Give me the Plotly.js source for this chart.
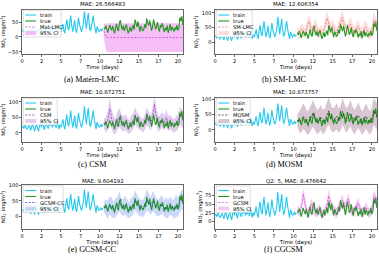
<!DOCTYPE html>
<html>
<head>
<meta charset="utf-8">
<script src="https://cdn.plot.ly/plotly-3.0.1.min.js"></script>
<style>
  html, body { margin: 0; padding: 0; background: #fff; }
  #chart { width: 379px; height: 261px; }
</style>
</head>
<body>
<div id="chart"></div>
<script>
// NO2 concentration: training period and held-out test period, 3-hour sampling
const obsStepDays = 0.125;
const trainStartDay = 0;
const testStartDay = 10.5;
const trainNO2 = [
  18, 22, 14, 25, 20, 12, 16, 24,
  19, 8, 22, 28, 14, 6, 20, 26,
  15, 5, 24, 30, 18, 42, 20, 10,
  26, 34, 20, 14, 30, 24, 36, 18,
  28, 22, 34, 16, 38, 24, 12, 26,
  18, 30, 44, 22, 12, 40, 58, 30,
  22, 48, 72, 40, 18, 34, 56, 26,
  14, 38, 65, 42, 24, 18, 30, 46,
  86, 60, 28, 54, 80, 42, 20, 30,
  52, 72, 46, 20, 12, 35, 24, 18,
  22, 28, 20, 26
];
const trueNO2 = [
  32, 26, 38, 22, 15, 28, 40, 30,
  22, 36, 18, 12, 30, 44, 26, 20,
  48, 56, 34, 24, 38, 20, 30, 42,
  26, 12, 22, 34, 18, 28, 40, 24,
  58, 46, 34, 52, 28, 18, 36, 30,
  20, 26, 42, 30, 62, 48, 38, 56,
  30, 20, 36, 58, 44, 26, 34, 50,
  28, 18, 40, 32, 46, 24, 16, 30,
  22, 38, 14, 28, 42, 20, 34, 26,
  18, 32, 24, 40, 22, 30, 66, 52,
  70, 40
];

// Model predictions (mean and 95% half-width), 6-hour sampling
const predStartDay = 10.5;
const predStepDays = 0.25;
const matLmcMean = [20, 0, -2, -2, -3, -2, -2, -2, -3, -2, -2, -2, -2, -3, -2, -2, -2, -2, -3, -2, -2,
  -2, -2, -3, -2, -2, -2, -2, -3, -2, -2, -2, -2, -3, -2, -2, -2, -2, -3, -2, -2, -2];
const matLmcHalf = [25, 44, 48, 48, 48, 48, 48, 48, 48, 48, 48, 48, 48, 48, 48, 48, 48, 48, 48, 48, 48,
  48, 48, 48, 48, 48, 48, 48, 48, 48, 48, 48, 48, 48, 48, 48, 48, 48, 48, 48, 48, 48];
const smLmcMean = [35, 28, 45, 38, 30, 55, 70, 48, 35, 58, 45, 30, 38, 30, 50, 82, 65, 45, 55, 40, 32,
  50, 68, 85, 55, 40, 48, 62, 45, 32, 42, 55, 35, 30, 45, 52, 35, 28, 40, 78, 60, 50];
const smLmcHalf = [15, 18, 20, 20, 18, 22, 25, 22, 18, 22, 20, 18, 20, 18, 22, 26, 24, 20, 22, 20, 18,
  22, 24, 26, 22, 20, 20, 24, 22, 18, 20, 22, 20, 18, 20, 22, 20, 18, 20, 26, 24, 22];
const csmMean = [30, 25, 40, 78, 45, 25, 22, 40, 50, 35, 28, 35, 25, 18, 30, 38, 55, 42, 35, 30, 22,
  35, 52, 45, 30, 55, 92, 48, 28, 35, 42, 30, 50, 30, 35, 28, 22, 30, 35, 55, 50, 40];
const csmHalf = [15, 25, 30, 35, 32, 28, 25, 28, 30, 26, 24, 25, 24, 22, 25, 26, 28, 25, 24, 22, 22,
  25, 28, 26, 24, 28, 32, 28, 24, 24, 26, 24, 28, 24, 24, 22, 22, 24, 25, 28, 28, 26];
const mosmMean = [32, 25, 32, 45, 35, 22, 28, 42, 55, 40, 25, 30, 40, 25, 30, 48, 62, 42, 30, 35, 45,
  30, 38, 60, 45, 30, 40, 55, 38, 25, 35, 48, 35, 22, 32, 45, 32, 22, 35, 62, 50, 40];
const mosmHalf = [20, 35, 40, 42, 40, 38, 40, 42, 44, 42, 40, 40, 42, 40, 40, 42, 45, 42, 40, 40, 42,
  40, 40, 44, 42, 40, 40, 43, 42, 40, 40, 42, 40, 38, 40, 42, 40, 38, 40, 45, 44, 42];
const gcsmCcMean = [30, 28, 22, 35, 30, 20, 28, 35, 48, 30, 28, 36, 25, 20, 30, 35, 52, 40, 30, 28, 24,
  36, 52, 45, 32, 48, 42, 30, 26, 35, 38, 25, 28, 25, 34, 28, 22, 35, 28, 45, 55, 45];
const gcsmCcHalf = [18, 25, 30, 28, 32, 26, 30, 28, 32, 26, 28, 30, 28, 26, 30, 28, 32, 30, 28, 26, 28,
  30, 34, 30, 28, 32, 30, 28, 26, 30, 28, 26, 34, 28, 30, 26, 32, 36, 30, 30, 32, 30];
const gcsmMean = [32, 28, 40, 80, 50, 25, 28, 50, 42, 30, 25, 38, 28, 20, 30, 45, 75, 50, 35, 30, 25,
  38, 50, 62, 40, 48, 65, 40, 28, 30, 40, 55, 35, 25, 30, 42, 28, 25, 35, 75, 60, 45];
const gcsmHalf = [12, 14, 16, 18, 16, 14, 14, 16, 16, 14, 14, 15, 14, 13, 14, 16, 18, 16, 15, 14, 14,
  15, 16, 18, 15, 16, 18, 16, 14, 14, 15, 16, 15, 14, 14, 15, 14, 14, 15, 18, 17, 16];

const modelLabels = ['Mat-LMC', 'SM-LMC', 'CSM', 'MOSM', 'GCSM-CC', 'GCSM'];
const panelTitles = ['MAE: 26.566483', 'MAE: 12.606354', 'MAE: 10.872751',
  'MAE: 10.873757', 'MAE: 9.604192', 'Q2: 5, MAE: 8.476642'];
const captions = ['(a) Matérn-LMC', '(b) SM-LMC', '(c) CSM', '(d) MOSM', '(e) GCSM-CC', '(f) CGCSM'];
const xTickVals = [0, 2.5, 5, 7.5, 10, 12.5, 15, 17.5, 20];
const xTickText = ['0', '2', '5', '7', '10', '12', '15', '17', '20'];
const yTickVals = [[-50, 0, 50], [0, 50, 100], [0, 50, 100], [0, 50, 100], [0, 50, 100], [0, 25, 50, 75]];
const yRanges = [[-57, 92], [-39, 111], [-29, 114], [-40, 106], [-41, 101], [-21, 106]];
const legendLabels = ['train', 'true', null, '95% CI'];

// Styling per model: dashed mean colour and CI fill
const meanColors = ['#e040e0', '#f06a6a', '#9a3cc0', '#3a2a3a', '#2a48d8', '#d848d8'];
const bandColors = ['rgba(236,120,236,0.48)', 'rgba(248,120,110,0.25)', 'rgba(190,140,220,0.45)',
  'rgba(150,90,125,0.35)', 'rgba(110,140,240,0.35)', 'rgba(236,130,236,0.45)'];
const trainColor = '#22c8ee';
const trueColor = '#1f9a1f';

const means = [matLmcMean, smLmcMean, csmMean, mosmMean, gcsmCcMean, gcsmMean];
const halves = [matLmcHalf, smLmcHalf, csmHalf, mosmHalf, gcsmCcHalf, gcsmHalf];

// Page geometry (pixels)
const W = 379, H = 261;
const colX = [[22, 183], [215, 377]];
const rowY = [[9.5, 54], [97.5, 142], [185, 229]];
const titleY = [4, 91.5, 180.5];
const captionY = [79.5, 164.5, 249.5];
const captionX = [92, 284];
const legendW = [38, 36, 34, 34, 40, 34];

const px = v => v / W;
const py = v => 1 - v / H;

const traces = [];
const layout = {
  width: W, height: H,
  margin: {l: 0, r: 0, t: 0, b: 0},
  paper_bgcolor: '#fff', plot_bgcolor: '#fff',
  showlegend: false,
  font: {family: 'DejaVu Sans, sans-serif', size: 5, color: '#000'},
  annotations: [], shapes: []
};

for (let p = 0; p < 6; p++) {
  const col = p % 2, row = Math.floor(p / 2);
  const sfx = p === 0 ? '' : String(p + 1);
  const xa = 'x' + sfx, ya = 'y' + sfx;
  const [L, R] = colX[col];
  const [T, B] = rowY[row];

  layout['xaxis' + sfx] = {
    domain: [px(L), px(R)], anchor: ya, range: [0, 20.65],
    tickmode: 'array', tickvals: xTickVals, ticktext: xTickText,
    showline: true, mirror: true, linecolor: '#000', linewidth: 0.6,
    ticks: 'outside', ticklen: 2, tickwidth: 0.6, tickcolor: '#000',
    tickfont: {size: 5}, showgrid: false, zeroline: false,
    title: {text: 'Time (days)', font: {size: 5.5}, standoff: 0}
  };
  layout['yaxis' + sfx] = {
    domain: [py(B), py(T)], anchor: xa, range: yRanges[p],
    tickmode: 'array', tickvals: yTickVals[p],
    showline: true, mirror: true, linecolor: '#000', linewidth: 0.6,
    ticks: 'outside', ticklen: 2, tickwidth: 0.6, tickcolor: '#000',
    tickfont: {size: 5}, showgrid: false, zeroline: false,
    title: {text: 'NO<sub>2</sub> (mg/m<sup>3</sup>)', font: {size: 5}, standoff: 2}
  };

  // 95% CI band
  const lo = means[p].map((m, i) => m - halves[p][i]);
  const hi = means[p].map((m, i) => m + halves[p][i]);
  traces.push({x0: predStartDay, dx: predStepDays, y: lo, xaxis: xa, yaxis: ya,
    mode: 'lines', line: {width: 0}, hoverinfo: 'skip'});
  traces.push({x0: predStartDay, dx: predStepDays, y: hi, xaxis: xa, yaxis: ya,
    mode: 'lines', line: {width: 0}, fill: 'tonexty', fillcolor: bandColors[p], hoverinfo: 'skip'});
  // observations
  traces.push({x0: trainStartDay, dx: obsStepDays, y: trainNO2, xaxis: xa, yaxis: ya,
    mode: 'lines', line: {color: trainColor, width: 1.1}});
  traces.push({x0: testStartDay, dx: obsStepDays, y: trueNO2, xaxis: xa, yaxis: ya,
    mode: 'lines', line: {color: trueColor, width: 1.1}});
  // predictive mean
  traces.push({x0: predStartDay, dx: predStepDays, y: means[p], xaxis: xa, yaxis: ya,
    mode: 'lines', line: {color: meanColors[p], width: 0.8, dash: '2px,1.5px'}});

  // panel title and caption
  layout.annotations.push({xref: 'paper', yref: 'paper', x: px((L + R) / 2), y: py(titleY[row]),
    text: panelTitles[p], showarrow: false, xanchor: 'center', yanchor: 'middle', font: {size: 5.5}});
  layout.annotations.push({xref: 'paper', yref: 'paper', x: px(captionX[col]), y: py(captionY[row]),
    text: captions[p], showarrow: false, xanchor: 'center', yanchor: 'middle', borderpad: 0,
    font: {family: 'Liberation Serif, Times New Roman, serif', size: 8.2}});

  // legend box
  const bx0 = L + 1.2, by0 = T + 0.8, bx1 = L + 1.2 + legendW[p], by1 = T + 27.5;
  layout.shapes.push({type: 'rect', xref: 'paper', yref: 'paper',
    x0: px(bx0), x1: px(bx1), y0: py(by0), y1: py(by1),
    line: {color: '#c8c8c8', width: 0.6}, fillcolor: 'rgba(255,255,255,0.85)'});
  const rowsY = [T + 5.5, T + 11.5, T + 17.5, T + 23.5];
  const hx0 = bx0 + 2, hx1 = bx0 + 13;
  const handleStyles = [
    {color: trainColor, width: 1.1},
    {color: trueColor, width: 1.1},
    {color: meanColors[p], width: 0.8, dash: '2px,1.5px'}
  ];
  for (let k = 0; k < 3; k++) {
    layout.shapes.push({type: 'line', xref: 'paper', yref: 'paper',
      x0: px(hx0), x1: px(hx1), y0: py(rowsY[k]), y1: py(rowsY[k]), line: handleStyles[k]});
  }
  layout.shapes.push({type: 'rect', xref: 'paper', yref: 'paper',
    x0: px(hx0), x1: px(hx1), y0: py(rowsY[3] - 2), y1: py(rowsY[3] + 2),
    line: {width: 0}, fillcolor: bandColors[p]});
  for (let k = 0; k < 4; k++) {
    layout.annotations.push({xref: 'paper', yref: 'paper', x: px(hx1 + 1.5), y: py(rowsY[k]),
      text: legendLabels[k] === null ? modelLabels[p] : legendLabels[k],
      showarrow: false, xanchor: 'left', yanchor: 'middle', font: {size: 5.2}});
  }
}

Plotly.newPlot('chart', traces, layout, {staticPlot: true, displayModeBar: false});
</script>
</body>
</html>
